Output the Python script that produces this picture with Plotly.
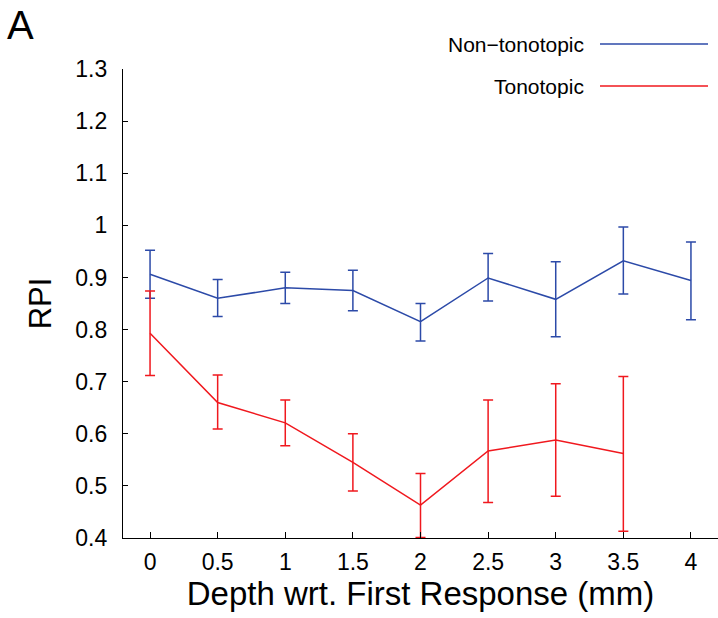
import plotly.graph_objects as go

depth_blue = [0, 0.5, 1, 1.5, 2, 2.5, 3, 3.5, 4]
rpi_blue = [0.906, 0.860, 0.880, 0.875, 0.815, 0.899, 0.858, 0.932, 0.894]
upper_blue = [0.952, 0.896, 0.910, 0.914, 0.850, 0.946, 0.930, 0.997, 0.968]
lower_blue = [0.860, 0.825, 0.850, 0.836, 0.778, 0.855, 0.786, 0.868, 0.819]

depth_red = [0, 0.5, 1, 1.5, 2, 2.5, 3, 3.5]
rpi_red = [0.793, 0.660, 0.621, 0.545, 0.463, 0.567, 0.588, 0.562]
upper_red = [0.874, 0.713, 0.665, 0.600, 0.524, 0.665, 0.696, 0.710]
lower_red = [0.712, 0.609, 0.577, 0.490, 0.401, 0.468, 0.480, 0.413]

x_ticks = [0, 0.5, 1, 1.5, 2, 2.5, 3, 3.5, 4]
y_ticks = [0.4, 0.5, 0.6, 0.7, 0.8, 0.9, 1.0, 1.1, 1.2, 1.3]

BLUE = "rgb(44,74,168)"
RED = "rgb(240,24,30)"
FONT = "Liberation Sans, Arial, sans-serif"

fig = go.Figure()
for xs, ys, up, lo, col, name in [
    (depth_blue, rpi_blue, upper_blue, lower_blue, BLUE, "Non\u2212tonotopic"),
    (depth_red, rpi_red, upper_red, lower_red, RED, "Tonotopic"),
]:
    fig.add_trace(go.Scatter(
        x=xs, y=ys, mode="lines", name=name,
        line=dict(color=col, width=1.5),
        error_y=dict(type="data", symmetric=False,
                     array=[u - y for u, y in zip(up, ys)],
                     arrayminus=[y - l for l, y in zip(lo, ys)],
                     color=col, thickness=1.5, width=5),
        showlegend=False,
    ))

fig.update_layout(
    width=718, height=618,
    margin=dict(l=123, r=0, t=69, b=80),
    paper_bgcolor="white", plot_bgcolor="white",
    font=dict(family=FONT, color="black"),
    xaxis=dict(range=[-0.2, 4.2], tickvals=x_ticks, ticks="inside", ticklen=6,
               tickcolor="black", showline=True, linecolor="black", linewidth=1.2,
               showgrid=False, zeroline=False, tickfont=dict(size=23),
               ticklabelstandoff=3,
               title=dict(text="Depth wrt. First Response (mm)", font=dict(size=33), standoff=8)),
    yaxis=dict(range=[0.4, 1.3], tickvals=y_ticks, ticks="inside", ticklen=5,
               tickcolor="black", showline=True, linecolor="black", linewidth=1.2,
               showgrid=False, zeroline=False, tickfont=dict(size=23),
               ticklabelstandoff=10,
               title=dict(text="RPI", font=dict(size=31), standoff=14)),
)

# Panel label
fig.add_annotation(text="A", xref="paper", yref="paper", x=-118/595, y=1 + 44/469,
                   xanchor="left", yanchor="middle", showarrow=False,
                   font=dict(size=40, family=FONT))

# Legend (text left, line sample right)
for label, col, ypx in [("Non\u2212tonotopic", BLUE, 44), ("Tonotopic", RED, 86)]:
    yp = 1 + (69 - ypx) / 469
    fig.add_annotation(text=label, xref="paper", yref="paper", x=(586 - 123) / 595, y=yp,
                       xanchor="right", yanchor="middle", showarrow=False,
                       font=dict(size=21, family=FONT))
    fig.add_shape(type="line", xref="paper", yref="paper",
                  x0=(600 - 123) / 595, x1=(708 - 123) / 595, y0=yp, y1=yp,
                  line=dict(color=col, width=1.5))

fig.write_html("out.html", config={"displayModeBar": False},
               post_script="document.body.style.margin='0';")
